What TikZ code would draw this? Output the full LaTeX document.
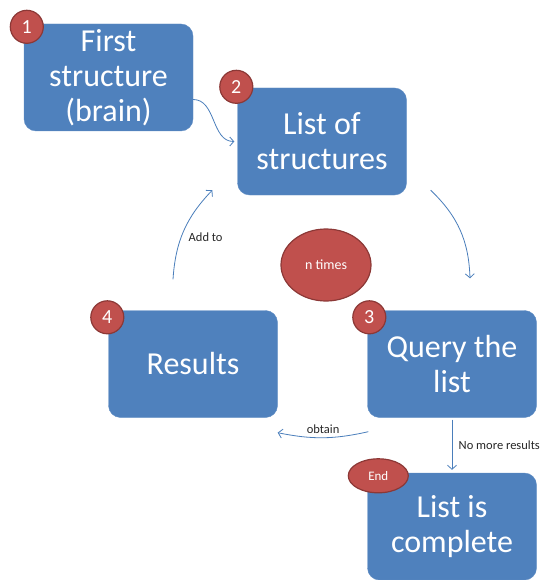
\documentclass[tikz,border=0pt]{standalone}
\usepackage{fontspec}
\setmainfont{Carlito}
\usepackage{xcolor}
\usepackage{tikz}
\usetikzlibrary{shapes, arrows.meta, positioning}

\definecolor{stepblue}{HTML}{4F81BD}
\definecolor{flowblue}{HTML}{4A7EBB}
\definecolor{badgered}{HTML}{C0504D}
\definecolor{badgeedge}{HTML}{8C3836}

\begin{document}
\begin{tikzpicture}[x=1pt, y=1pt, node distance=130pt,
    stepbox/.style={draw=stepblue!90!white, fill=stepblue, rounded corners=12pt, minimum width=169pt, minimum height=107pt, text=white, align=center, font=\fontsize{32}{35}\selectfont},
    badge/.style={circle, draw=badgeedge, line width=1.2pt, fill=badgered, minimum size=33pt, inner sep=0pt, text=white, font=\fontsize{20}{22}\selectfont},
    flow/.style={draw=flowblue, line width=0.8pt, -{Straight Barb[length=4pt, width=9pt]}},
    note/.style={font=\fontsize{12.5}{14}\selectfont, text=black!85}]
    \useasboundingbox (0,0) rectangle (543,-580);

    % Steps
    \node [stepbox] (first) at (108.5,-77.5) {First\\structure\\(brain)};
    \node [stepbox, right of=first, xshift=83.5pt, yshift=-64pt] (list) {List of\\structures};
    \node [stepbox, right of=list, yshift=-222.5pt] (query) {Query the\\list};
    \node [stepbox, left of=query, xshift=-129pt] (results) {Results};
    \node [stepbox, below of=query, yshift=-32.5pt] (complete) {List is\\complete};

    % Badges
    \node [badge] (b1) at ([xshift=3pt, yshift=-3pt]first.north west) {1};
    \node [badge] (b2) at ([xshift=-1pt, yshift=1pt]list.north west) {2};
    \node [badge] (b3) at ([xshift=2pt, yshift=-7pt]query.north west) {3};
    \node [badge] (b4) at ([xshift=-1pt, yshift=-7pt]results.north west) {4};
    \node [ellipse, draw=badgeedge, line width=1.2pt, fill=badgered, minimum width=60pt, minimum height=34pt, inner sep=0pt, text=white, font=\fontsize{13}{15}\selectfont] (endmark) at ([xshift=11pt, yshift=-3pt]complete.north west) {End};
    \node [ellipse, draw=badgeedge, line width=1.2pt, fill=badgered, minimum width=90pt, minimum height=72pt, inner sep=0pt, text=white, font=\fontsize{14}{16}\selectfont] (loop) at (326,-265) {n times};

    % Connections
    \draw[flow] ([yshift=-22pt]first.east) to[out=0, in=180] ([xshift=-3pt]list.west);
    \draw[flow] ([xshift=24pt, yshift=5pt]list.south east) to[bend left=22] ([xshift=18pt, yshift=32pt]query.north);
    \draw[flow] ([xshift=1pt, yshift=-14pt]query.south west) to[bend left=12] node[note, above] {obtain} ([yshift=-15pt]results.south east);
    \draw[flow] ([xshift=-20pt, yshift=31pt]results.north) to[bend left=20] node[note, right, pos=0.42, xshift=4pt] {Add to} ([xshift=-25pt, yshift=5pt]list.south west);
    \draw[flow] ([yshift=-2pt]query.south) -- node[note, right, xshift=3pt] {No more results} ([yshift=3pt]complete.north);
\end{tikzpicture}
\end{document}
